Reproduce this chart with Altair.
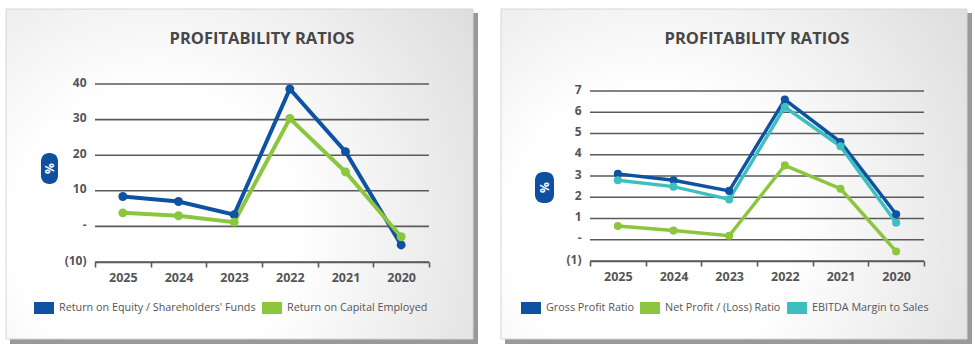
import altair as alt
import pandas as pd

years = ["2025", "2024", "2023", "2022", "2021", "2020"]

left_series = ["Return on Equity / Shareholders' Funds", "Return on Capital Employed"]
roe = [8.4, 7.0, 3.3, 38.6, 21.0, -5.2]
roce = [3.8, 3.0, 1.2, 30.3, 15.3, -2.9]
left_ticks = [-10, 0, 10, 20, 30, 40]

right_series = ["Gross Profit Ratio", "Net Profit / (Loss) Ratio", "EBITDA Margin to Sales"]
gross = [3.1, 2.8, 2.3, 6.6, 4.6, 1.2]
net = [0.65, 0.43, 0.19, 3.5, 2.4, -0.55]
ebitda = [2.8, 2.5, 1.9, 6.25, 4.4, 0.8]
right_ticks = [-1, 0, 1, 2, 3, 4, 5, 6, 7]

title_text = "PROFITABILITY RATIOS"
unit_text = "%"

BLUE = "#0f52a2"
GREEN = "#8cc63f"
TEAL = "#3ebfbf"
GRID = "#5a5a5a"
TXT = "#555555"
FONT = "Open Sans"


def long_df(series, values):
    rows = []
    for s, vals in zip(series, values):
        for y, v in zip(years, vals):
            rows.append({"year": y, "series": s, "value": v})
    return pd.DataFrame(rows)


def panel(series, values, colors, ticks, ydomain, W, H, card, badge, legend_xy,
          title_y, stroke, psize):
    df = long_df(series, values)
    one = pd.DataFrame({"k": [0]})
    x0, x1, y0, y1 = card
    grad = alt.RadialGradient(
        gradient="radial", x1=0.32, y1=0.62, r1=0.0, x2=0.32, y2=0.62, r2=1.0,
        stops=[alt.GradientStop(color="#ffffff", offset=0.0),
               alt.GradientStop(color="#ffffff", offset=0.3),
               alt.GradientStop(color="#d2d2d2", offset=1.0)])
    shadow = alt.Chart(one).mark_rect(fill="#999999").encode(
        x=alt.value(x0 + 4), x2=alt.value(x1 + 5),
        y=alt.value(y0 + 4), y2=alt.value(y1 + 5))
    cardm = alt.Chart(one).mark_rect(fill=grad, stroke="#d6d6d6", strokeWidth=1).encode(
        x=alt.value(x0), x2=alt.value(x1), y=alt.value(y0), y2=alt.value(y1))

    yscale = alt.Scale(domain=ydomain, nice=False, zero=False)
    xscale = alt.Scale(type="band", domain=years, paddingInner=0, paddingOuter=0)
    cscale = alt.Scale(domain=series, range=colors)

    lbl = ("datum.value < 0 ? '(' + format(-datum.value, 'd') + ')' : "
           "(datum.value == 0 ? '-' : format(datum.value, 'd'))")
    yaxis = alt.Axis(title=None, values=ticks, labelExpr=lbl, grid=False,
                     domain=False, ticks=False, labelPadding=9,
                     labelOffset=-2, labelFont=FONT, labelFontSize=12,
                     labelFontWeight="bold", labelColor=TXT, zindex=1)

    grid = alt.Chart(pd.DataFrame({"value": ticks})).mark_rule(
        color=GRID, strokeWidth=1.6).encode(
        y=alt.Y("value:Q", scale=yscale, axis=yaxis),
        x=alt.value(0), x2=alt.value(W))

    path = "M-1,-0.6L1,-0.6L1,0.6L-1,0.6Z"
    lines = alt.Chart(df).mark_line(
        strokeWidth=stroke,
        point=alt.OverlayMarkDef(filled=True, size=psize, opacity=1)).encode(
        x=alt.X("year:O", scale=xscale, bandPosition=0.5, sort=years,
                axis=alt.Axis(title=None, labelAngle=0, tickBand="extent",
                              domainColor=GRID, domainWidth=1.6,
                              tickColor=GRID, tickWidth=1.6, tickSize=5,
                              labelPadding=4, labelFont=FONT, labelFontSize=12.5,
                              labelFontWeight="bold", labelColor=TXT,
                              grid=False, zindex=1)),
        y=alt.Y("value:Q", scale=yscale, axis=yaxis),
        color=alt.Color("series:N", scale=cscale, sort=series,
                        legend=alt.Legend(
                            orient="none", legendX=legend_xy[0], legendY=legend_xy[1],
                            direction="horizontal", title=None, padding=0,
                            symbolType=path, symbolSize=400, symbolStrokeWidth=0,
                            symbolOpacity=1, labelFont=FONT, labelFontSize=10.8,
                            labelColor=TXT, labelOffset=5, columnPadding=6,
                            labelLimit=400)),
    )

    bx0, bx1, by0, by1 = badge
    badge_rect = alt.Chart(one).mark_rect(fill="#0f4f9f", cornerRadius=8).encode(
        x=alt.value(bx0), x2=alt.value(bx1), y=alt.value(by0), y2=alt.value(by1))
    badge_txt = alt.Chart(one).mark_text(
        text=unit_text, angle=270, color="white", font=FONT, fontSize=12,
        fontWeight="bold", align="center", baseline="middle").encode(
        x=alt.value((bx0 + bx1) / 2), y=alt.value((by0 + by1) / 2))
    title = alt.Chart(one).mark_text(
        text=title_text, font=FONT, fontSize=16.5, fontWeight="bold",
        color="#474747", align="center", baseline="middle").encode(
        x=alt.value(W / 2), y=alt.value(title_y))

    return alt.layer(shadow, cardm, grid, lines, badge_rect, badge_txt,
                     title).properties(width=W, height=H)


left = panel(left_series, [roe, roce], [BLUE, GREEN], left_ticks, [-10, 40], 334, 178,
             (-89, 378, -75, 255), (-54, -37, 69, 100), (-61, 214), -45,
             4, 80)
right = panel(right_series, [gross, net, ebitda], [BLUE, GREEN, TEAL], right_ticks,
              [-1, 7.33], 334, 177, (-89, 377, -75, 255), (-55, -36, 88, 119),
              (-69, 214), -45, 3.5, 65)

chart = alt.hconcat(left, right, spacing=22).properties(
    padding={"left": 5, "top": 8, "right": 0, "bottom": 0},
    background="white",
).configure_view(stroke=None).resolve_scale(color="independent", y="independent",
                                            x="independent")

chart.save("out.html", embed_options={"renderer": "svg", "actions": False})
